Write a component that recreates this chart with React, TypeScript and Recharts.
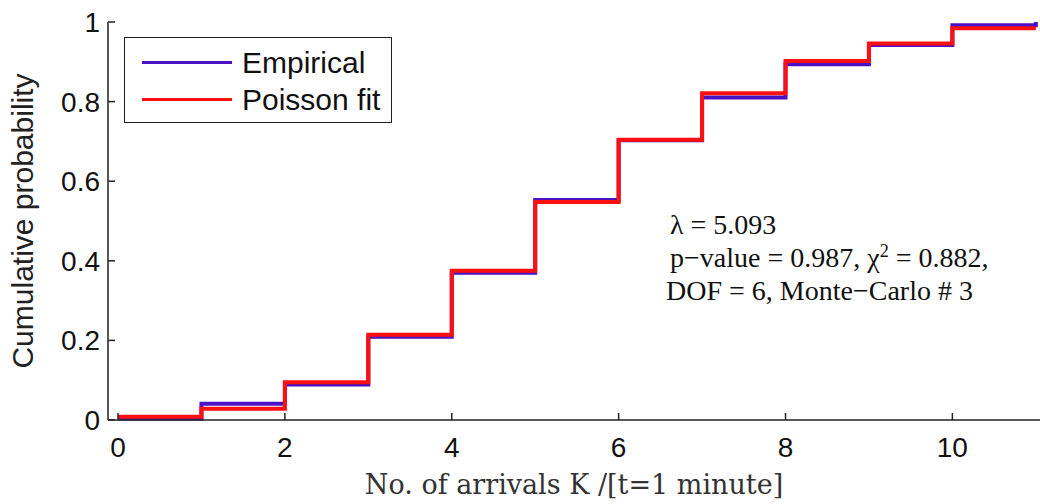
import React from 'react';
import { LineChart, Line, XAxis, YAxis, Legend } from 'recharts';

// number of arrivals per 1-minute window
const arrivals = [0, 1, 2, 3, 4, 5, 6, 7, 8, 9, 10, 11];
// cumulative probability
const empiricalCdf = [0.004, 0.041, 0.089, 0.209, 0.37, 0.553, 0.703, 0.81, 0.894, 0.942, 0.992, 1.0];
const poissonCdf = [0.008, 0.028, 0.095, 0.214, 0.375, 0.548, 0.704, 0.821, 0.902, 0.946, 0.984, 0.984];

const xTicks = [0, 2, 4, 6, 8, 10];
const yTicks = [0, 0.2, 0.4, 0.6, 0.8, 1];

const data = arrivals.map((k, i) => ({
  k,
  empirical: empiricalCdf[i],
  poisson: poissonCdf[i],
}));

const AXIS = '#222';
const PURPLE = '#4b12c4';
const RED = '#ff1010';

const renderLegend = (props: any) => {
  const { payload } = props;
  return (
    <div
      style={{
        border: `1.5px solid ${AXIS}`,
        background: '#fff',
        width: 268,
        height: 86,
        boxSizing: 'border-box',
        padding: '6px 0 0 17px',
        fontFamily: '"Liberation Sans", Arial, sans-serif',
        fontSize: 30,
        color: '#111',
      }}
    >
      {payload.map((entry: any) => (
        <div key={entry.value} style={{ display: 'flex', alignItems: 'center', height: 37 }}>
          <span style={{ display: 'inline-block', width: 90, height: 3, background: entry.color, marginRight: 10 }} />
          <span>{entry.value}</span>
        </div>
      ))}
    </div>
  );
};

const App: React.FC = () => {
  return (
    <div style={{ position: 'absolute', left: 0, top: 0, width: 1040, height: 504, background: '#fff' }}>
      <LineChart width={1040} height={504} data={data} margin={{ top: 22, right: 0, left: 0, bottom: 0 }}>
        <XAxis
          dataKey="k"
          type="number"
          domain={[-0.12, 11.05]}
          ticks={xTicks}
          allowDataOverflow
          height={84}
          stroke={AXIS}
          strokeWidth={1.5}
          tickSize={-7}
          tickMargin={24}
          tick={{ fontSize: 28, fill: '#111', fontFamily: '"Liberation Sans", Arial, sans-serif' }}
          label={{
            value: 'No. of arrivals K /[t=1 minute]',
            position: 'insideBottom',
            offset: 10,
            style: { fontSize: 27, fill: '#333', fontFamily: '"DejaVu Serif", serif' },
          }}
        />
        <XAxis
          xAxisId="top"
          dataKey="k"
          type="number"
          orientation="top"
          mirror
          height={0}
          domain={[-0.12, 11.05]}
          ticks={xTicks}
          allowDataOverflow
          stroke={AXIS}
          strokeWidth={1.5}
          tickSize={7}
          tick={false}
        />
        <YAxis
          type="number"
          domain={[0, 1]}
          ticks={yTicks}
          width={108}
          stroke={AXIS}
          strokeWidth={1.5}
          tickSize={-7}
          tickMargin={15}
          tick={{ fontSize: 28, fill: '#111', fontFamily: '"Liberation Sans", Arial, sans-serif' }}
          label={{
            value: 'Cumulative probability',
            angle: -90,
            position: 'insideLeft',
            offset: 22,
            style: { textAnchor: 'middle', fontSize: 30, fill: '#222', fontFamily: '"Liberation Sans", Arial, sans-serif' },
          }}
        />
        <YAxis
          yAxisId="right"
          type="number"
          orientation="right"
          mirror
          width={0}
          domain={[0, 1]}
          ticks={yTicks}
          stroke={AXIS}
          strokeWidth={1.5}
          tickSize={7}
          tick={false}
        />
        <Legend
          layout="horizontal"
          verticalAlign="middle"
          align="center"
          content={renderLegend}
          wrapperStyle={{ position: 'absolute', left: 124, top: 37, width: 'auto', height: 'auto' }}
        />
        <Line
          type="stepAfter"
          dataKey="empirical"
          name="Empirical"
          stroke={PURPLE}
          strokeWidth={4}
          dot={false}
          isAnimationActive={false}
        />
        <Line
          type="stepAfter"
          dataKey="poisson"
          name="Poisson fit"
          stroke={RED}
          strokeWidth={4}
          dot={false}
          isAnimationActive={false}
        />
      </LineChart>
      <div
        style={{
          position: 'absolute',
          left: 666,
          top: 208,
          fontFamily: '"Liberation Serif", "Times New Roman", serif',
          fontSize: 28,
          lineHeight: '33px',
          color: '#111',
          whiteSpace: 'nowrap',
        }}
      >
        <div style={{ paddingLeft: 4 }}>λ = 5.093</div>
        <div style={{ paddingLeft: 4 }}>
          p−value = 0.987, χ<sup style={{ fontSize: '0.65em', lineHeight: 0 }}>2</sup> = 0.882,
        </div>
        <div>DOF = 6, Monte−Carlo # 3</div>
      </div>
    </div>
  );
};

export default App;
